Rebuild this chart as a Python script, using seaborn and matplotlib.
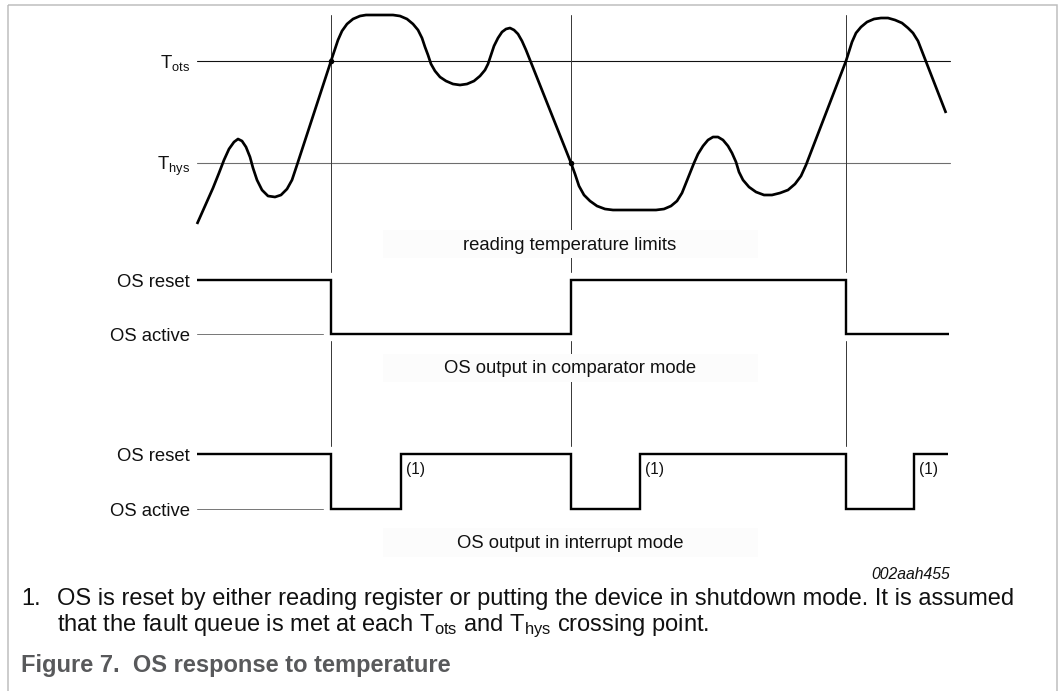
import matplotlib
matplotlib.use("Agg")
import matplotlib.pyplot as plt
import seaborn as sns
import numpy as np
import pandas as pd
from matplotlib.patches import Rectangle

# ---------------- data (time axis and levels) ----------------
temp_x = [197, 205, 213, 219, 224, 229, 234, 238, 242, 246, 250, 253, 257, 262, 268, 275,
          281, 287, 292, 297, 331, 338, 342, 347, 353, 360, 366, 393, 400, 407, 413, 418,
          422, 425, 428, 431, 435, 440, 446, 453, 460, 467, 474, 480, 485, 488, 491, 494,
          498, 502, 506, 510, 514, 518, 522, 526, 530, 571, 575, 579, 584, 590, 597, 605,
          613, 656, 664, 671, 677, 682, 686, 690, 694, 698, 703, 708, 713, 718, 723, 728,
          732, 736, 739, 743, 749, 756, 764, 772, 780, 788, 795, 801, 806, 846, 852, 856,
          861, 867, 874, 881, 888, 895, 902, 908, 913, 918, 946]
temp_y = [224, 206, 188, 173, 160, 149, 142, 139, 141, 147, 157, 168, 180, 190, 196, 197,
          195, 189, 180, 165, 61, 40, 31, 24, 19, 16, 15, 15, 16, 19, 24, 30,
          38, 47, 55, 64, 71, 77, 81, 84, 85, 84, 81, 76, 70, 64, 55, 46,
          38, 32, 29, 28, 30, 34, 41, 50, 60, 163, 174, 186, 195, 201, 206, 209,
          210, 210, 209, 206, 201, 193, 183, 173, 163, 154, 146, 140, 137, 137, 140, 146,
          153, 162, 172, 180, 187, 192, 195, 195, 193, 190, 184, 176, 165, 61, 42, 33,
          27, 22, 19, 18, 18, 20, 23, 28, 33, 41, 113]

threshold_names = ["ots", "hys"]
threshold_levels = [60.5, 163]

crossing_times = [331, 571, 846]
dot_times = [331, 571]
dot_levels = [60.5, 163]

comp_times = [197, 331, 571, 846, 949]
comp_state = [1, 0, 1, 0, 0]

int_times = [197, 331, 401, 571, 640, 846, 914, 948]
int_state = [1, 0, 1, 0, 1, 0, 1, 1]
release_times = [401, 640, 914]

state_labels = ["OS reset", "OS active"]
section_titles = ["reading temperature limits",
                  "OS output in comparator mode",
                  "OS output in interrupt mode"]

# ---------------- style ----------------
sns.set_theme(style="white")
plt.rcParams["font.family"] = ["Liberation Sans", "DejaVu Sans"]
plt.rcParams["mathtext.fontset"] = "custom"
plt.rcParams["mathtext.rm"] = "Liberation Sans"
plt.rcParams["mathtext.it"] = "Liberation Sans:italic"
plt.rcParams["mathtext.bf"] = "Liberation Sans:bold"

fig = plt.figure(figsize=(10.62, 6.91), dpi=100)
ax = fig.add_axes([0, 0, 1, 1])
ax.set_xlim(0, 1062)
ax.set_ylim(691, 0)
ax.axis("off")

LBL = 13.3
px = 0.72  # points per pixel

# frame
ax.add_patch(Rectangle((8, 5), 1049, 700, fill=False, edgecolor="#bdbdbd",
                       lw=1.5 * px, zorder=1))

# threshold lines
thr_colors = ["#111111", "#6e6e6e"]
for name, lvl, c in zip(threshold_names, threshold_levels, thr_colors):
    ax.plot([197, 950], [lvl, lvl], color=c, lw=1.1 * px, zorder=2)
    ax.text(190, lvl + 7, "T$_{\\mathrm{%s}}$" % name, ha="right", va="baseline",
            fontsize=LBL, color="#111111")

# vertical crossing lines (broken around the output traces)
for t in crossing_times:
    ax.plot([t, t], [15, 272], color="#3c3c3c", lw=1.0 * px, zorder=2)
    ax.plot([t, t], [341, 446], color="#3c3c3c", lw=1.0 * px, zorder=2)

# faint label boxes
for y0, y1 in [(230, 258), (354, 382), (528, 557)]:
    ax.add_patch(Rectangle((383, y0), 375, y1 - y0, facecolor="#fcfcfc",
                           edgecolor="none", zorder=3))

# temperature curve
curve = pd.DataFrame({"time": temp_x, "temp": temp_y})
sns.lineplot(data=curve, x="time", y="temp", sort=False, estimator=None,
             color="black", lw=2.7 * px, ax=ax, zorder=4,
             solid_joinstyle="round", solid_capstyle="butt")
ax.scatter(dot_times, dot_levels, s=16, color="black", zorder=5, linewidths=0)

# output traces
def trace(times, states, high, low):
    df = pd.DataFrame({"time": times,
                       "level": [low + (high - low) * s for s in states]})
    sns.lineplot(data=df, x="time", y="level", sort=False, estimator=None,
                 drawstyle="steps-post", color="black", lw=2.4 * px, ax=ax,
                 zorder=4, solid_joinstyle="miter", solid_capstyle="butt")
    ax.plot([197, 323], [low, low], color="#7a7a7a", lw=1.0 * px, zorder=2)
    ax.text(190, high + 7, state_labels[0], ha="right", va="baseline",
            fontsize=LBL, color="#111111")
    ax.text(190, low + 7, state_labels[1], ha="right", va="baseline",
            fontsize=LBL, color="#111111")

trace(comp_times, comp_state, 280, 334)
trace(int_times, int_state, 454, 509)

for t in release_times:
    ax.text(t + 5, 474, "(1)", ha="left", va="baseline", fontsize=11.2,
            color="#111111")

for title, yb in zip(section_titles, [250, 373, 548]):
    ax.text(570, yb, title, ha="center", va="baseline", fontsize=LBL,
            color="#111111", zorder=6)

ax.text(950, 579, "002aah455", ha="right", va="baseline", fontsize=11.3,
        style="italic", color="#111111")

# footnote and caption
FN = 17
ax.text(21, 605, "1.", ha="left", va="baseline", fontsize=FN, color="#111111")
ax.text(57, 605, "OS is reset by either reading register or putting the device in "
        "shutdown mode. It is assumed", ha="left", va="baseline", fontsize=FN,
        color="#111111")
ax.text(57, 631, "that the fault queue is met at each T$_{\\mathrm{ots}}$ and "
        "T$_{\\mathrm{hys}}$ crossing point.", ha="left", va="baseline",
        fontsize=FN, color="#111111")
ax.text(21, 672, "Figure 7.  OS response to temperature", ha="left",
        va="baseline", fontsize=FN, fontweight="bold", color="#58595b")

fig.savefig("out.png", dpi=100)
